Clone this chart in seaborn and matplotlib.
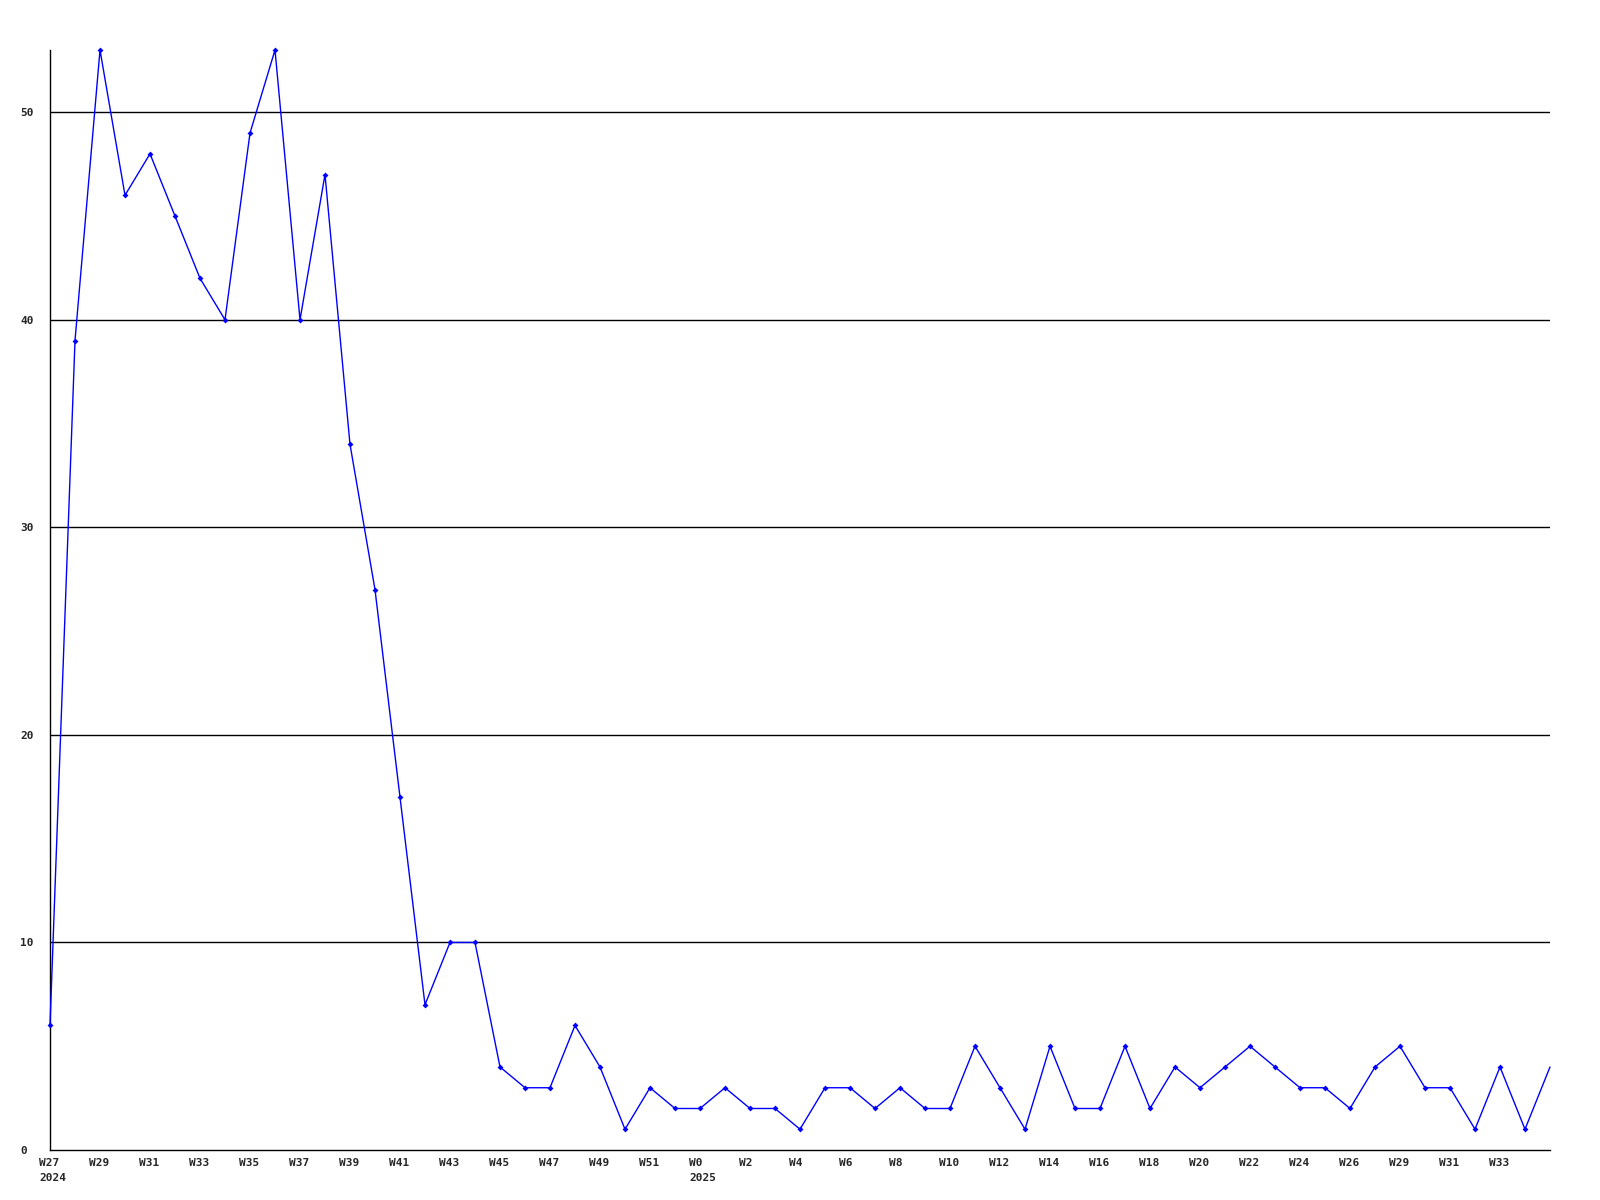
import numpy as np, pandas as pd, matplotlib
matplotlib.use("Agg")
import matplotlib.pyplot as plt
import matplotlib.transforms as mtransforms
import seaborn as sns

# weekly counts, W27 2024 .. 2025
COUNTS=[6,39,53,46,48,45,42,40,49,53,40,47,34,27,17,7,10,10,4,3,
        3,6,4,1,3,2,2,3,2,2,1,3,3,2,3,2,2,5,3,1,
        5,2,2,5,2,4,3,4,5,4,3,3,2,4,5,3,3,1,4,1,4]
TICK_LABELS=["W27\n2024","W29","W31","W33","W35","W37","W39","W41","W43","W45","W47","W49","W51",
             "W0\n2025","W2","W4","W6","W8","W10","W12","W14","W16","W18","W20","W22","W24","W26",
             "W29","W31","W33"]
Y_TICKS=[0,10,20,30,40,50]

df=pd.DataFrame({"i":np.arange(len(COUNTS)),"n":COUNTS})

sns.set_style("white")
plt.rcParams["font.family"]=["DejaVu Sans Mono"]
fig=plt.figure(figsize=(16,12),dpi=100)
ax=fig.add_axes([50/1600,50/1200,1500/1600,1100/1200])
for y in Y_TICKS[1:]:
    ax.axhline(y,color="black",lw=1,zorder=1)
sns.lineplot(data=df,x="i",y="n",ax=ax,color="#0000ff",lw=1,marker="D",markersize=3,
             markeredgewidth=0,zorder=3,clip_on=False,markevery=list(range(len(COUNTS)-1)))
ax.set_xlim(0,len(COUNTS)-1); ax.set_ylim(0,53)
ax.set_xticks(np.arange(0,2*len(TICK_LABELS),2)); ax.set_xticklabels(TICK_LABELS,fontsize=8,fontweight="bold")
ax.set_yticks(Y_TICKS); ax.set_yticklabels([str(v) for v in Y_TICKS],fontsize=8,fontweight="bold")
ax.tick_params(length=0)
ax.tick_params(axis="x",pad=6)
ax.tick_params(axis="y",pad=21.6)
shift=mtransforms.ScaledTranslation(-11/100,0,fig.dpi_scale_trans)
for lab in ax.get_xticklabels():
    lab.set_horizontalalignment("left"); lab.set_multialignment("left"); lab.set_linespacing(1.55)
    lab.set_transform(lab.get_transform()+shift)
for lab in ax.get_yticklabels():
    lab.set_horizontalalignment("left")
ax.set_xlabel(""); ax.set_ylabel("")
for s in ["top","right"]: ax.spines[s].set_visible(False)
for s in ["left","bottom"]: ax.spines[s].set_color("black"); ax.spines[s].set_linewidth(1)
fig.savefig("out.png",facecolor="white")
